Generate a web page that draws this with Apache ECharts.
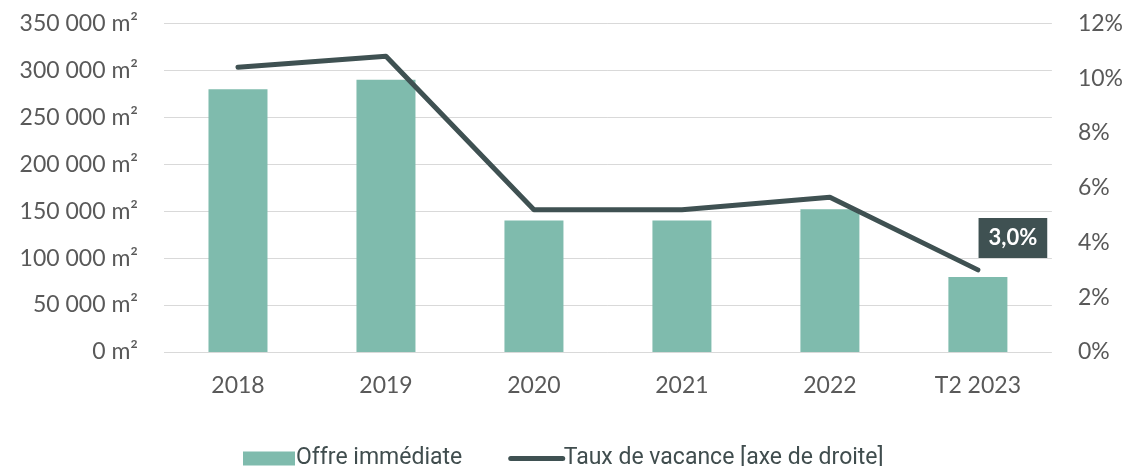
<!DOCTYPE html>
<html>
<head>
<meta charset="utf-8">
<script src="https://cdn.jsdelivr.net/npm/echarts@6/dist/echarts.min.js"></script>
<style>
  html, body { margin: 0; padding: 0; background: #fff; }
  #chart { width: 1126px; height: 466px; }
</style>
</head>
<body>
<div id="chart"></div>
<script>
const categories = ['2018', '2019', '2020', '2021', '2022', 'T2 2023']
const offreImmediate = [280000, 290000, 140000, 140000, 152000, 80000]
const tauxVacance = [10.4, 10.8, 5.2, 5.2, 5.65, 3.0]

const chart = echarts.init(document.getElementById('chart'))
const last = categories.length - 1

function fmtM2(v) {
  return String(v).replace(/\B(?=(\d{3})+(?!\d))/g, ' ') + ' m²'
}

chart.setOption({
  animation: false,
  textStyle: { fontFamily: 'Lato' },
  grid: { left: 164, right: 74, top: 23.5, bottom: 114 },
  legend: {
    top: 442,
    left: 238,
    itemGap: 46,
    itemWidth: 52,
    itemHeight: 14,
    textStyle: { fontFamily: 'Roboto', fontSize: 23, color: '#404d4e', padding: [0, 0, 0, -4] },
    data: [
      { name: 'Offre immédiate', icon: 'rect' },
      {
        name: 'Taux de vacance [axe de droite]',
        itemStyle: { color: 'rgba(0,0,0,0)', borderWidth: 0 },
        lineStyle: { color: '#3f5152', width: 5, cap: 'round' }
      }
    ]
  },
  xAxis: {
    type: 'category',
    data: categories,
    axisLine: { show: false },
    axisTick: { show: false },
    axisLabel: { color: '#595959', fontSize: 23, margin: 22 }
  },
  yAxis: [{
    type: 'value',
    min: 0, max: 350000, interval: 50000,
    axisLine: { show: false },
    axisTick: { show: false },
    axisLabel: { color: '#595959', fontSize: 23, margin: 26, formatter: fmtM2 },
    splitLine: { lineStyle: { color: '#d9d9d9', width: 1 } }
  }, {
    type: 'value',
    min: 0, max: 12, interval: 2,
    axisLine: { show: false },
    axisTick: { show: false },
    axisLabel: { color: '#595959', fontSize: 23, margin: 26, formatter: '{value}%' },
    splitLine: { show: false }
  }],
  series: [{
    name: 'Offre immédiate',
    type: 'bar',
    data: offreImmediate,
    barWidth: 59,
    itemStyle: { color: '#7fbbad' }
  }, {
    name: 'Taux de vacance [axe de droite]',
    type: 'line',
    yAxisIndex: 1,
    data: tauxVacance,
    symbol: 'none',
    showSymbol: false,
    lineStyle: { color: '#3f5152', width: 5, cap: 'round', join: 'round' },
    itemStyle: { color: '#3f5152' },
    markPoint: {
      symbol: 'circle',
      symbolSize: 0,
      data: [{ coord: [categories[last], tauxVacance[last]], value: tauxVacance[last] }],
      label: {
        show: true,
        position: 'top',
        offset: [35, -7],
        formatter: function (p) { return p.value.toFixed(1).replace('.', ',') + '%' },
        color: '#fff',
        fontWeight: 'bold',
        fontSize: 22,
        backgroundColor: '#3f5152',
        padding: [9, 10, 9, 10]
      }
    }
  }]
})
</script>
</body>
</html>
